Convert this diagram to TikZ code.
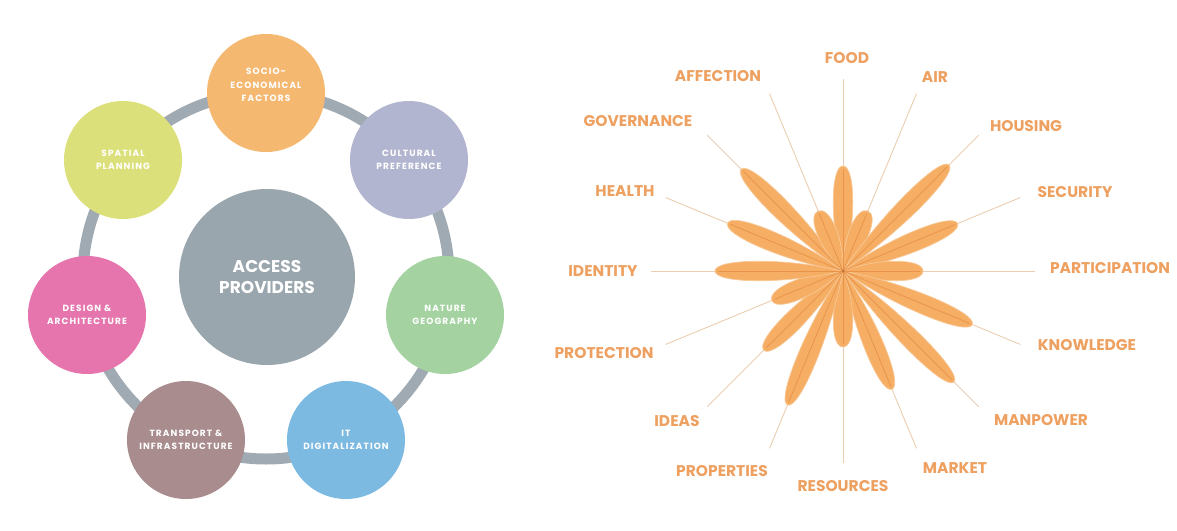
\documentclass[tikz,border=0pt]{standalone}
\usepackage{fontspec}
\setmainfont{Poppins}
\usetikzlibrary{calc,positioning}

\definecolor{ringgray}{HTML}{A0AAB2}
\definecolor{hubgray}{HTML}{9AA6AE}
\definecolor{socio}{HTML}{F5B871}
\definecolor{cultural}{HTML}{B2B5CF}
\definecolor{nature}{HTML}{A4D3A1}
\definecolor{itblue}{HTML}{7DBAE2}
\definecolor{transport}{HTML}{A98C8D}
\definecolor{design}{HTML}{E675AD}
\definecolor{spatial}{HTML}{DCE07B}
\definecolor{petalfill}{HTML}{F5AE64}
\definecolor{petaledge}{HTML}{F8C896}
\definecolor{petalmid}{HTML}{E8924A}
\definecolor{spoke}{HTML}{EBCDB0}
\definecolor{lblorange}{HTML}{EDA060}

\newfontfamily\spaced{Poppins}[LetterSpace=12]

\tikzset{
  factor/.style={circle,minimum size=118pt,inner sep=0pt,align=center,text=white,
    font=\spaced\fontsize{9}{13.5}\selectfont\bfseries},
  hub/.style={circle,minimum size=176pt,inner sep=0pt,fill=hubgray,align=center,text=white,
    font=\fontsize{17}{21}\selectfont\bfseries},
  need/.style={text=lblorange,inner sep=0pt,font=\fontsize{15.5}{17}\selectfont\bfseries},
  petal/.style={fill=petalfill,draw=petaledge,line width=0.7pt},
  midline/.style={petalmid,line width=0.7pt},
  spokeline/.style={spoke,line width=0.9pt}
}

\begin{document}
\begin{tikzpicture}[x=1pt,y=-1pt]
\useasboundingbox (0,0) rectangle (1177,530);

% left: ring of access factors
\coordinate (ring) at (266,276);
\draw[ringgray,line width=11pt] (ring) circle[radius=183pt];
\node[hub] (access) at (267,277) {ACCESS\\PROVIDERS};
\node[factor,fill=socio] (socioeco) at (266,93) {SOCIO-\\ECONOMICAL\\FACTORS\\[2pt]};
\node[factor,fill=cultural] (cultpref) at (409,160) {CULTURAL\\PREFERENCE};
\node[factor,fill=nature] (natgeo) at (445,315) {NATURE\\GEOGRAPHY};
\node[factor,fill=itblue] (itdig) at (346,440) {IT\\DIGITALIZATION};
\node[factor,fill=transport] (transinfra) at (186,440) {TRANSPORT \&\\INFRASTRUCTURE};
\node[factor,fill=design] (desarch) at (87,315) {DESIGN \&\\ARCHITECTURE};
\node[factor,fill=spatial] (spatplan) at (123,160) {SPATIAL\\PLANNING};

% right: flower of needs
\coordinate (flower) at (843,271);
\def\needs{0/105/847/58/FOOD, 1/65/935/77/AIR, 2/150/1026/126/HOUSING,
  3/124/1075/192/SECURITY, 4/80/1110/268/PARTICIPATION, 5/140/1087/345/KNOWLEDGE,
  6/157/1041/420/MANPOWER, 7/128/955/468/MARKET, 8/76/843/486/RESOURCES,
  9/145/722/471/PROPERTIES, 10/112/677/421/IDEAS, 11/77/604/353/PROTECTION,
  12/128/603/271/IDENTITY, 13/125/625/191/HEALTH, 14/144/638/121/GOVERNANCE,
  15/65/718/76/AFFECTION}

\foreach \i/\len/\lx/\ly/\txt in \needs {
  \pgfmathsetmacro\ang{90-22.5*\i}
  \coordinate (s\i) at ($(flower)+(\ang:192pt)$);
  \draw[spokeline] (flower) -- (s\i);
  \node[need] (n\i) at (\lx,\ly) {\txt};
}
% petals: leaf shape, thin at the centre
\foreach \i/\len/\lx/\ly/\txt in \needs {
  \pgfmathsetmacro\ang{90-22.5*\i}
  \begin{scope}[shift={(flower)},rotate=\ang]
    \filldraw[petal] (0pt,0pt) .. controls (\len*0.45pt,13.5pt) and (\len pt,12.5pt) .. (\len pt,0pt)
      .. controls (\len pt,-12.5pt) and (\len*0.45pt,-13.5pt) .. (0pt,0pt);
  \end{scope}
}
\foreach \i/\len/\lx/\ly/\txt in \needs {
  \pgfmathsetmacro\ang{90-22.5*\i}
  \coordinate (t\i) at ($(flower)+(\ang:\len pt-3pt)$);
  \draw[midline] (flower) -- (t\i);
}
\fill[petalmid!80!black] (flower) circle[radius=1.5pt];
\end{tikzpicture}
\end{document}
